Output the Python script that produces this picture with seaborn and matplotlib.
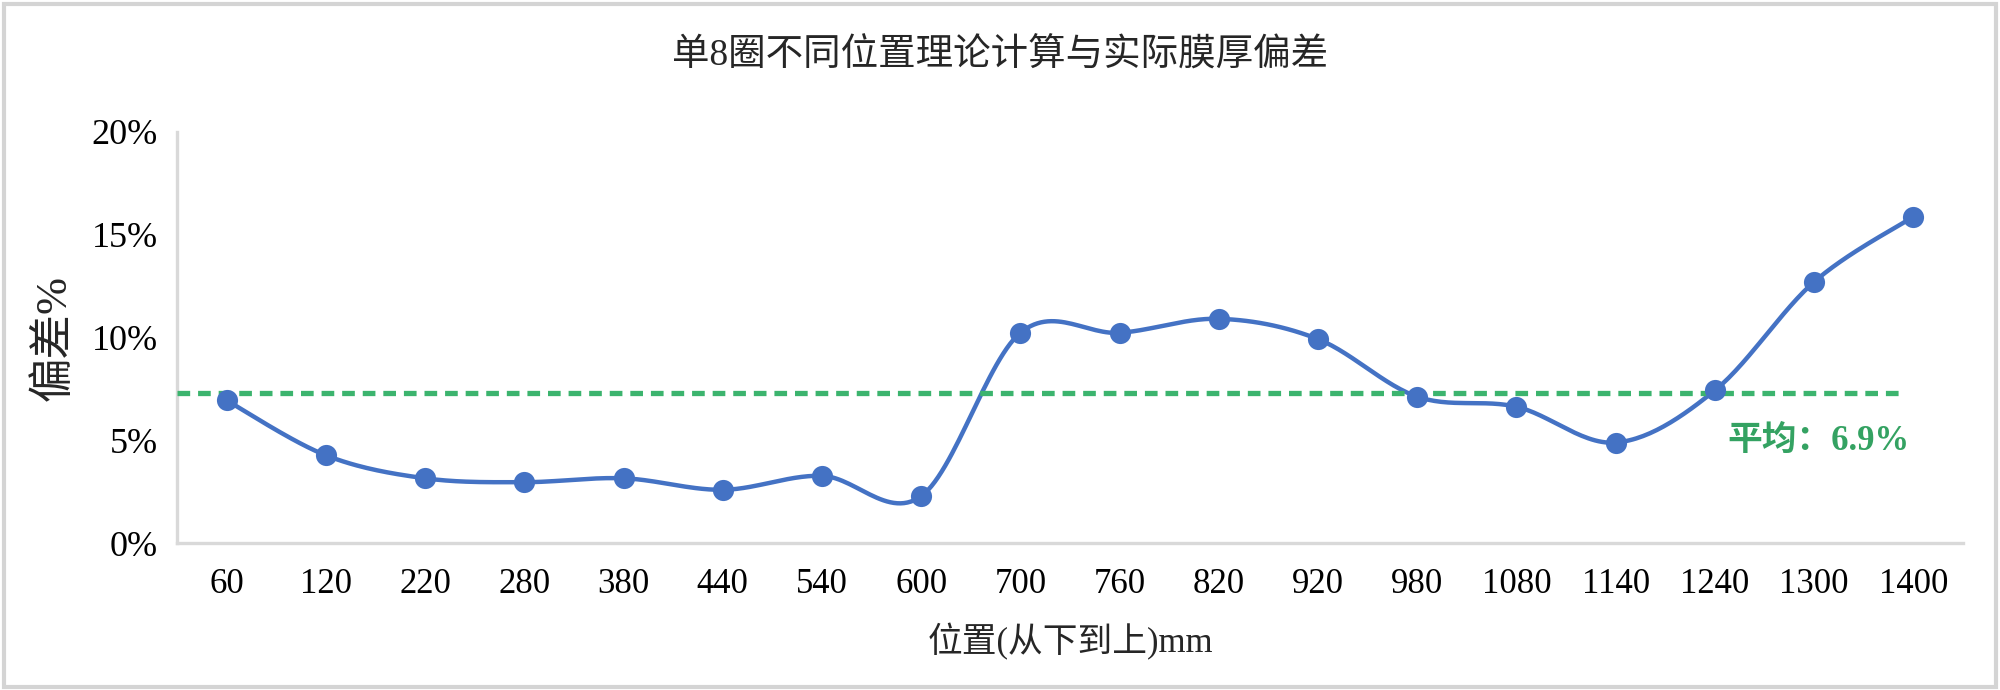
import numpy as np
import pandas as pd
import matplotlib
matplotlib.use("Agg")
import matplotlib.pyplot as plt
import seaborn as sns
from matplotlib.patches import Rectangle

# data (deviation in %)
positions = ["60", "120", "220", "280", "380", "440", "540", "600", "700",
             "760", "820", "920", "980", "1080", "1140", "1240", "1300", "1400"]
deviation = [6.94, 4.27, 3.15, 2.96, 3.15, 2.59, 3.27, 2.28, 10.23,
             10.23, 10.91, 9.92, 7.12, 6.63, 4.89, 7.43, 12.71, 15.88]
avg_line = 7.28          # where the dashed mean line is drawn
avg_text = "平均：6.9%"
y_ticks = [0, 5, 10, 15, 20]

title = "单8圈不同位置理论计算与实际膜厚偏差"
xlabel = "位置(从下到上)mm"
ylabel = "偏差%"

blue = "#4472c4"
green = "#3cb46e"

sns.set_theme(style="white")
plt.rcParams['font.family'] = ['Liberation Serif', 'Noto Sans CJK SC', 'DejaVu Sans']

df = pd.DataFrame({"pos": positions, "dev": deviation})
df["idx"] = np.arange(len(df))


def smooth_curve(x, y, n=30):
    # catmull-rom style smoothing like excel's "smoothed line"
    x = np.asarray(x, float)
    y = np.asarray(y, float)
    px = np.concatenate([[x[0]], x, [x[-1]]])
    py = np.concatenate([[y[0]], y, [y[-1]]])
    xs, ys = [], []
    for i in range(1, len(px) - 2):
        p0, p1, p2, p3 = (np.array([px[j], py[j]]) for j in (i - 1, i, i + 1, i + 2))
        c1 = p1 + (p2 - p0) / 6
        c2 = p2 - (p3 - p1) / 6
        t = np.linspace(0, 1, n)[:, None]
        b = (1 - t) ** 3 * p1 + 3 * (1 - t) ** 2 * t * c1 + 3 * (1 - t) * t ** 2 * c2 + t ** 3 * p2
        xs.extend(b[:, 0])
        ys.extend(b[:, 1])
    return pd.DataFrame({"x": xs, "y": ys})


curve = smooth_curve(df["idx"], df["dev"])

fig = plt.figure(figsize=(10, 3.45), dpi=200)
ax = fig.add_axes([0.0885, 0.213, 0.893, 0.5957])

sns.lineplot(data=curve, x="x", y="y", sort=False, color=blue, lw=1.6, ax=ax)
sns.scatterplot(data=df, x="idx", y="dev", color=blue, s=58, edgecolor=blue,
                linewidth=0, zorder=4, ax=ax)

ax.plot([-0.5, 16.9], [avg_line, avg_line], ls=(0, (2.4, 1.5)), color=green, lw=1.9, zorder=3)
ax.text(16.04, 4.96, avg_text, color="#34a262", fontsize=12.5, fontweight="bold",
        ha="center", va="center")

ax.set_xlim(-0.5, len(positions) - 0.5)
ax.set_ylim(0, 20)
ax.set_xticks(df["idx"])
ax.set_xticklabels(positions, fontsize=12.5)
ax.set_yticks(y_ticks)
ax.set_yticklabels([f"{v}%" for v in y_ticks], fontsize=13)
ax.tick_params(axis="both", length=0, colors="black")
ax.tick_params(axis="x", pad=9)
ax.tick_params(axis="y", pad=7)

for s in ["top", "right"]:
    ax.spines[s].set_visible(False)
for s in ["left", "bottom"]:
    ax.spines[s].set_color("#d9d9d9")
    ax.spines[s].set_linewidth(1.2)

ax.set_xlabel(xlabel, fontsize=12.5, labelpad=8)
ax.set_ylabel(ylabel, fontsize=16, labelpad=6)
fig.suptitle(title, fontsize=13.5, y=0.945)

fig.patches.append(Rectangle((0.002, 0.004), 0.996, 0.99, transform=fig.transFigure,
                             fill=False, edgecolor="#d4d4d4", lw=1.5))

fig.savefig("out.png", dpi=200)
